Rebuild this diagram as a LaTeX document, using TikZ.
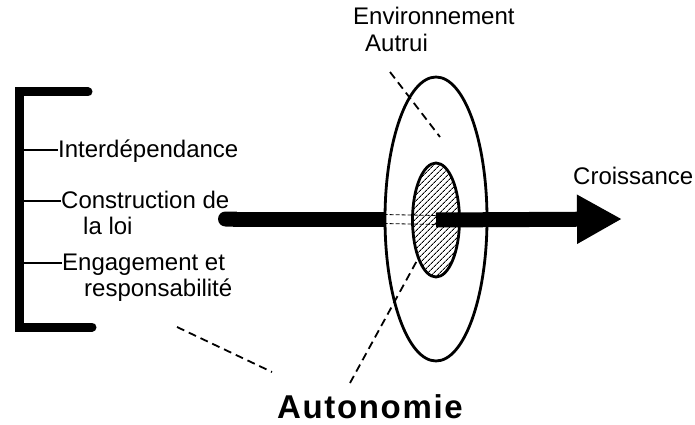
\documentclass[tikz,border=0pt]{standalone}
\usepackage{fontspec}
\setmainfont{Liberation Sans}
\newfontfamily\spaced[LetterSpace=5]{Liberation Sans}
\usetikzlibrary{positioning}
\usetikzlibrary{shapes.geometric}
\usetikzlibrary{patterns.meta}
\usetikzlibrary{arrows.meta}

\begin{document}
\begin{tikzpicture}[
      x=1pt, y=-1pt,
      node distance=9pt and 22pt,
      item/.style={anchor=base west, inner sep=0pt, font=\fontsize{24}{28}\selectfont},
      caption/.style={anchor=base west, inner sep=0pt, font=\fontsize{24}{28}\selectfont},
      leader/.style={line width=1.8pt, dash pattern=on 8pt off 5pt},
      disc/.style={draw, ellipse, line width=2.8pt, inner sep=0pt},
      shaft/.style={line width=15pt}
      ]

      \useasboundingbox (0,0) rectangle (695,425);

      % the bracket and what it holds
      \draw[line width=9pt, line cap=round] (88,92) -- (19.5,92) -- (19.5,327) -- (92,327);
      \coordinate (brk) at (24,0);

      \node[item] (inter) at (58,157) {Interdépendance};
      \node[item] (constr) at (61,208) {Construction de};
      \node[item, below right=of constr.base west] (loi) {la loi};
      \node[item] (engag) at (62,270) {Engagement et};
      \node[item, below right=of engag.base west] (resp) {responsabilité};

      \foreach \n in {inter, constr, engag} {
        \path ([yshift=7pt]\n.base west) coordinate (t\n);
        \draw[line width=1.2pt] (brk |- t\n) -- (t\n);
      }

      % growth arrow going through the discs
      \coordinate (tail) at (218,219);
      \coordinate (head) at (622,219);
      \node[disc, minimum width=102pt, minimum height=284pt] (ring) at (436,219) {};
      \draw[shaft, {Round Cap[]}-] (tail) -- (ring.west);
      \node[disc, fill=white, minimum width=47pt, minimum height=114pt,
            postaction={pattern={Lines[angle=45, distance=4pt, line width=0.9pt]}}] (core) at (436,220) {};
      \draw[line width=0.8pt, dash pattern=on 4pt off 2pt]
        ([yshift=4.5pt]ring.west) -- ([yshift=4.5pt]core.center)
        ([yshift=-4.5pt]ring.west) -- ([yshift=-4.5pt]core.center);
      \draw[shaft, -{Triangle[length=45pt, width=46pt]}] (core.center) -- (head);

      % labels
      \node[caption] (env) at (353,25) {Environnement};
      \node[caption] (autrui) at (365,52) {Autrui};
      \node[caption] (croiss) at (573,184) {Croissance};
      \node[caption, font=\spaced\bfseries\fontsize{33}{38}\selectfont] (auto) at (277,418) {Autonomie};

      \coordinate (envtip) at (390,72);
      \coordinate (ringpt) at (440,137);
      \coordinate (autotop) at (350,383);
      \coordinate (brkpt) at (177,327);
      \coordinate (autoleft) at (272,372);

      \draw[leader] (envtip) -- (ringpt);
      \draw[leader] (autotop) -- (core.245);
      \draw[leader] (brkpt) -- (autoleft);
    \end{tikzpicture}
\end{document}
